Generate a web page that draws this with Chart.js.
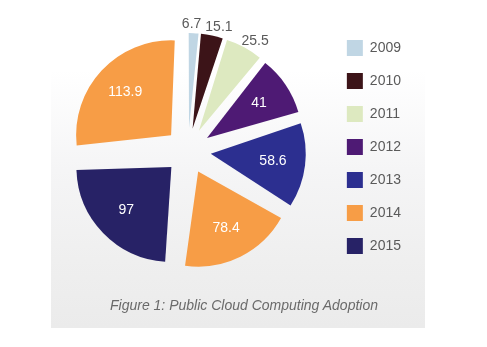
<!DOCTYPE html>
<html>
<head>
<meta charset="utf-8">
<script src="https://cdn.jsdelivr.net/npm/chart.js@4"></script>
<style>
  html, body { margin: 0; padding: 0; background: #ffffff; overflow: hidden; }
  #wrap { position: relative; width: 487px; height: 347px; }
  #panel { position: absolute; left: 51px; top: 0; width: 374px; height: 328px;
    background: linear-gradient(to bottom, #ffffff 0px, #ffffff 70px, #f5f5f6 170px, #efefef 260px, #ebebeb 328px); }
  #c { position: absolute; left: 0; top: 0; }
  #caption { position: absolute; left: 0; width: 488px; top: 296px; text-align: center;
    font: italic 14px "Liberation Sans", Arial, sans-serif; color: #6a6a6a; line-height: 18px; }
</style>
</head>
<body>
<div id="wrap">
  <div id="panel"></div>
  <canvas id="c" width="487" height="347"></canvas>
  <div id="caption">Figure 1: Public Cloud Computing Adoption</div>
</div>
<script>
const categories = ['2009', '2010', '2011', '2012', '2013', '2014', '2015', '2016'];
const values = [6.7, 15.1, 25.5, 41, 58.6, 78.4, 97, 113.9];
const colors = ['#c0d6e4', '#3c1418', '#dde9c0', '#4e1a74', '#2c2f90', '#f79d46', '#272266', '#f79d46'];
const legendCount = 7;

const RADIUS = 95;
const SHIFT = 23;            // visual explode distance (px)
const OFFSET = SHIFT * 4;    // Chart.js v4 draws offset / 4

// Undo the radius growth and angular trimming that Chart.js applies to offset arcs,
// so every exploded slice keeps its true radius and proportional angle.
const fixArcs = {
  id: 'fixArcs',
  afterDatasetsUpdate(chart) {
    const meta = chart.getDatasetMeta(0);
    meta.data.forEach(arc => {
      const circ = arc.circumference;
      const fix = 1 - Math.sin(Math.min(Math.PI, circ));
      arc.outerRadius = RADIUS - SHIFT * fix;
      const trim = (SHIFT / Math.PI) / RADIUS;
      arc.startAngle -= trim / 2;
      arc.endAngle += trim / 2;
    });
  }
};

const valueLabels = {
  id: 'valueLabels',
  afterDatasetsDraw(chart) {
    const ctx = chart.ctx;
    const meta = chart.getDatasetMeta(0);
    const data = chart.data.datasets[0].data;
    ctx.save();
    ctx.font = '14px "Liberation Sans", Arial, sans-serif';
    ctx.textAlign = 'center';
    ctx.textBaseline = 'middle';
    const outside = [];
    meta.data.forEach((arc, i) => {
      const mid = (arc.startAngle + arc.endAngle) / 2;
      const cx = arc.x + Math.cos(mid) * SHIFT;
      const cy = arc.y + Math.sin(mid) * SHIFT;
      const v = data[i];
      const text = String(v);
      if (v >= 30) {
        const r = RADIUS * 0.66;
        ctx.fillStyle = '#ffffff';
        ctx.fillText(text, cx + Math.cos(mid) * r, cy + Math.sin(mid) * r);
      } else {
        const a = mid + 2 * Math.PI / 180;
        const dx = Math.cos(a), dy = Math.sin(a);
        const r = RADIUS + 2;
        const w = ctx.measureText(text).width;
        const h = 14;
        outside.push({ text, w, x: cx + dx * r + dx * w / 2, y: cy + dy * r + dy * h / 2 });
      }
    });
    // keep neighbouring outside labels from overlapping (shift earlier ones left)
    for (let i = outside.length - 2; i >= 0; i--) {
      const a = outside[i], b = outside[i + 1];
      const limit = (b.x - b.w / 2) - 4;
      if (a.x + a.w / 2 > limit) a.x = limit - a.w / 2;
    }
    ctx.fillStyle = '#5a5a5a';
    outside.forEach(l => ctx.fillText(l.text, l.x, l.y));
    ctx.restore();
  }
};

new Chart(document.getElementById('c'), {
  type: 'pie',
  data: {
    labels: categories,
    datasets: [{
      data: values,
      backgroundColor: colors,
      borderWidth: 0,
      offset: OFFSET,
      hoverOffset: OFFSET
    }]
  },
  options: {
    responsive: false,
    animation: false,
    events: [],
    radius: RADIUS,
    layout: { padding: { top: 23, bottom: 68, left: 46, right: 76 } },
    plugins: {
      tooltip: { enabled: false },
      title: { display: false },
      legend: {
        position: 'right',
        align: 'start',
        labels: {
          boxWidth: 16,
          boxHeight: 16,
          padding: 17,
          color: '#5a5a5a',
          font: { size: 14, family: '"Liberation Sans", Arial, sans-serif' },
          filter: (item) => item.index < legendCount
        }
      }
    }
  },
  plugins: [fixArcs, valueLabels]
});
</script>
</body>
</html>
